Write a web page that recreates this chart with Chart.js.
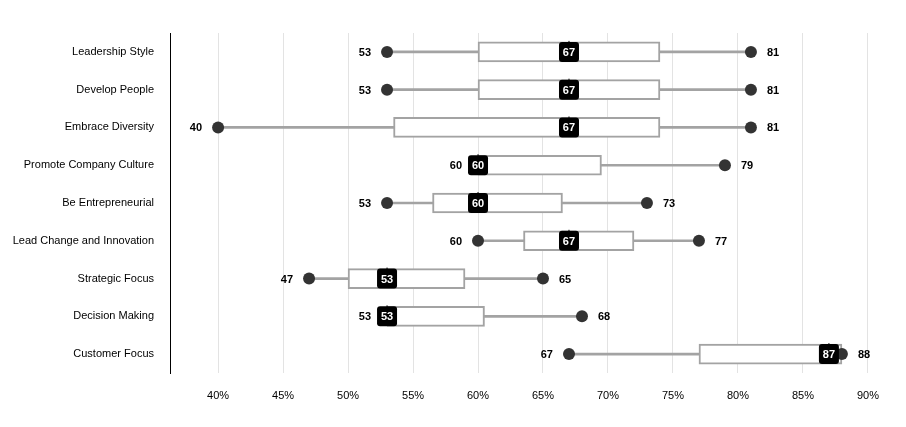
<!DOCTYPE html>
<html>
<head>
<meta charset="utf-8">
<script src="https://cdn.jsdelivr.net/npm/chart.js@4/dist/chart.umd.min.js"></script>
<style>
  html, body { margin: 0; padding: 0; background: #fff; }
  #wrap { width: 906px; height: 427px; position: relative; }
</style>
</head>
<body>
<div id="wrap"><canvas id="boxChart"></canvas></div>
<script>
// datos (porcentajes)
const categories = [
  'Leadership Style', 'Develop People', 'Embrace Diversity', 'Promote Company Culture',
  'Be Entrepreneurial', 'Lead Change and Innovation', 'Strategic Focus', 'Decision Making', 'Customer Focus'
];
const minValues    = [53, 53, 40, 60, 53, 60, 47, 53, 67];
const q1Values     = [60, 60, 53.5, 60, 56.5, 63.5, 50, 53, 77];
const medianValues = [67, 67, 67, 60, 60, 67, 53, 53, 87];
const q3Values     = [74, 74, 74, 69.5, 66.5, 72, 59, 60.5, 88];
const maxValues    = [81, 81, 81, 79, 73, 77, 65, 68, 88];
const xTicks       = [40, 45, 50, 55, 60, 65, 70, 75, 80, 85, 90];

const FONT = '"Liberation Sans", Arial, sans-serif';
const GREY = '#a3a3a3';
const DOT = '#333333';

const whiskers = categories.map((_, i) => [minValues[i], maxValues[i]]);
const boxes = categories.map((_, i) => [q1Values[i], q3Values[i]]);

// puntos min/max, valores y mediana en caja negra
const labelsPlugin = {
  id: 'boxLabels',
  afterDatasetsDraw(chart) {
    const { ctx, scales: { x, y } } = chart;
    ctx.save();
    categories.forEach((_, i) => {
      const cy = y.getPixelForValue(i);
      ctx.fillStyle = DOT;
      [minValues[i], maxValues[i]].forEach(v => {
        ctx.beginPath();
        ctx.arc(x.getPixelForValue(v), cy, 6, 0, Math.PI * 2);
        ctx.fill();
      });
    });
    ctx.font = 'bold 11px ' + FONT;
    ctx.textBaseline = 'middle';
    categories.forEach((_, i) => {
      const cy = y.getPixelForValue(i);
      ctx.fillStyle = '#000';
      ctx.textAlign = 'right';
      ctx.fillText(String(minValues[i]), x.getPixelForValue(minValues[i]) - 16, cy + 1);
      ctx.textAlign = 'left';
      ctx.fillText(String(maxValues[i]), x.getPixelForValue(maxValues[i]) + 16, cy + 1);

      const mx = x.getPixelForValue(medianValues[i]);
      ctx.fillStyle = '#000';
      ctx.fillRect(mx - 0.5, cy - 11, 1, 2);
      ctx.beginPath();
      ctx.roundRect(mx - 10, cy - 10, 20, 20, 3);
      ctx.fill();
      ctx.fillStyle = '#fff';
      ctx.textAlign = 'center';
      ctx.fillText(String(medianValues[i]), mx, cy + 1);
    });
    ctx.restore();
  }
};

const ctx = document.getElementById('boxChart').getContext('2d');
new Chart(ctx, {
  type: 'bar',
  data: {
    labels: categories,
    datasets: [
      { label: 'whisker', data: whiskers, backgroundColor: GREY, barThickness: 2, grouped: false, order: 2 },
      { label: 'box', data: boxes, backgroundColor: '#ffffff', borderColor: GREY, borderWidth: 2,
        borderSkipped: false, barThickness: 20, grouped: false, order: 1 }
    ]
  },
  options: {
    indexAxis: 'y',
    responsive: true,
    maintainAspectRatio: false,
    animation: false,
    layout: { padding: { top: 33, right: 16, left: 0, bottom: 0 } },
    scales: {
      x: {
        type: 'linear',
        min: 36.3,
        max: 91.7,
        afterBuildTicks: (scale) => { scale.ticks = xTicks.map(v => ({ value: v })); },
        afterFit: (scale) => { scale.height = 54; },
        border: { display: false },
        grid: { color: '#e3e3e3', lineWidth: 1, drawTicks: false },
        ticks: { color: '#000', padding: 16, font: { family: FONT, size: 11 }, callback: v => v + '%' }
      },
      y: {
        type: 'category',
        offset: true,
        afterFit: (scale) => { scale.width = 170; },
        border: { display: true, color: '#000', width: 1 },
        grid: { display: false, drawTicks: false },
        ticks: { color: '#000', padding: 16, font: { family: FONT, size: 11 } }
      }
    },
    plugins: {
      legend: { display: false },
      tooltip: { enabled: false }
    }
  },
  plugins: [labelsPlugin]
});
</script>
</body>
</html>
